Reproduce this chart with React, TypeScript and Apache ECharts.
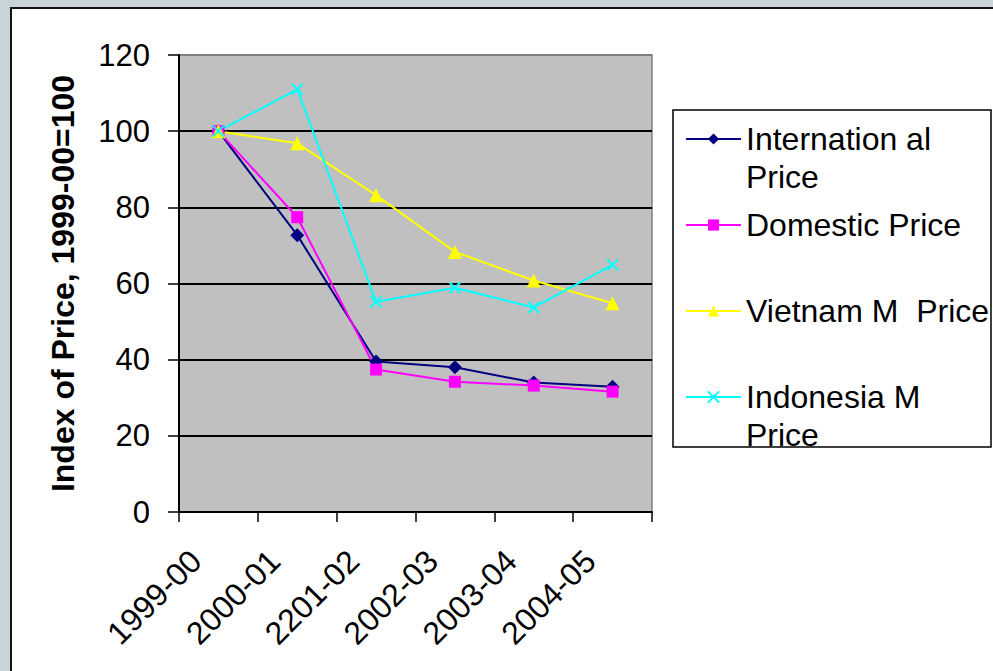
import React, { useEffect, useRef } from "react";
import * as echarts from "echarts";

const categories = ["1999-00", "2000-01", "2201-02", "2002-03", "2003-04", "2004-05"];
const seriesNames = ["Internation al Price", "Domestic Price", "Vietnam M  Price", "Indonesia M Price"];
const legendLabels = ["\nInternation al\nPrice", "Domestic Price", "Vietnam M  Price", "\nIndonesia M\nPrice"];
const internationalValues = [100, 72.7, 39.5, 38.0, 34.0, 32.9];
const domesticValues = [100, 77.4, 37.4, 34.2, 33.2, 31.6];
const vietnamValues = [100, 96.8, 83.2, 68.3, 60.8, 54.8];
const indonesiaValues = [100, 111, 55.2, 58.9, 53.7, 64.9];
const yTicks = [0, 20, 40, 60, 80, 100, 120];

const FONT = "'Liberation Sans', Arial, sans-serif";

export default function App() {
  const ref = useRef<HTMLDivElement>(null);

  useEffect(() => {
    if (!ref.current) return;
    const chart = echarts.init(ref.current, null, { renderer: "svg" });
    const colors = ["#000080", "#ff00ff", "#ffff00", "#00ffff"];
    const symbols = ["diamond", "rect", "triangle", "path://M0,0L10,10M10,0L0,10"];
    const sizes = [14, 12, 14, 11];
    const values = [internationalValues, domesticValues, vietnamValues, indonesiaValues];
    const legendTops = [82, 206, 292, 340];

    const series = seriesNames.map((name, i) => ({
      name,
      type: "line",
      data: values[i],
      symbol: symbols[i],
      symbolSize: sizes[i],
      showAllSymbol: true,
      lineStyle: { color: colors[i], width: 2 },
      itemStyle: { color: colors[i], borderColor: colors[i], borderWidth: i === 3 ? 2 : 0 },
      emphasis: { disabled: true },
    }));

    const legends = seriesNames.map((name, i) => ({
      show: true,
      orient: "vertical",
      left: 685,
      top: legendTops[i],
      itemWidth: 55,
      itemHeight: 14,
      itemGap: 0,
      padding: 0,
      selectedMode: false,
      data: [name],
      formatter: () => legendLabels[i],
      textStyle: { fontFamily: FONT, fontSize: 32, lineHeight: 38, color: "#000" },
    }));

    chart.setOption({
      animation: false,
      backgroundColor: "transparent",
      textStyle: { fontFamily: FONT },
      grid: {
        left: 179,
        top: 55,
        width: 473,
        height: 457,
        show: true,
        backgroundColor: "#c0c0c0",
        borderColor: "#808080",
        borderWidth: 1.5,
      },
      graphic: [
        {
          type: "rect",
          shape: { x: 673, y: 110, width: 318, height: 337 },
          style: { fill: "#fff", stroke: "#000", lineWidth: 1.5 },
          z: -1,
        },
      ],
      legend: legends,
      xAxis: {
        type: "category",
        data: categories,
        boundaryGap: true,
        axisLine: { lineStyle: { color: "#000", width: 2 } },
        axisTick: { show: true, length: 10, lineStyle: { color: "#000", width: 1.5 } },
        axisLabel: {
          rotate: 45,
          interval: 0,
          margin: 21,
          padding: [0, 32, 0, 0],
          fontSize: 32,
          color: "#000",
          fontFamily: FONT,
        },
        splitLine: { show: false },
      },
      yAxis: {
        type: "value",
        min: yTicks[0],
        max: yTicks[yTicks.length - 1],
        interval: 20,
        name: "Index of Price, 1999-00=100",
        nameLocation: "middle",
        nameGap: 100,
        nameTextStyle: { fontFamily: FONT, fontSize: 32, fontWeight: "bold", color: "#000" },
        axisLine: { show: true, lineStyle: { color: "#000", width: 2 } },
        axisTick: { show: true, length: 11, lineStyle: { color: "#000", width: 1.5 } },
        axisLabel: { margin: 29, fontSize: 31, color: "#000", fontFamily: FONT },
        splitLine: {
          show: true,
          lineStyle: { color: ["#000", "#000", "#000", "#000", "#000", "#000", "#808080"], width: 2 },
        },
      },
      series,
    });
    return () => chart.dispose();
  }, []);

  return (
    <div
      style={{
        position: "fixed",
        left: 0,
        top: 0,
        width: 993,
        height: 671,
        background: "#c9d3da",
        overflow: "hidden",
      }}
    >
      <div
        style={{
          position: "absolute",
          left: 10,
          top: 7,
          width: 1000,
          height: 700,
          background: "#fff",
          border: "2px solid #141414",
          boxSizing: "border-box",
        }}
      />
      <div ref={ref} style={{ position: "absolute", left: 0, top: 0, width: 993, height: 671 }} />
    </div>
  );
}
